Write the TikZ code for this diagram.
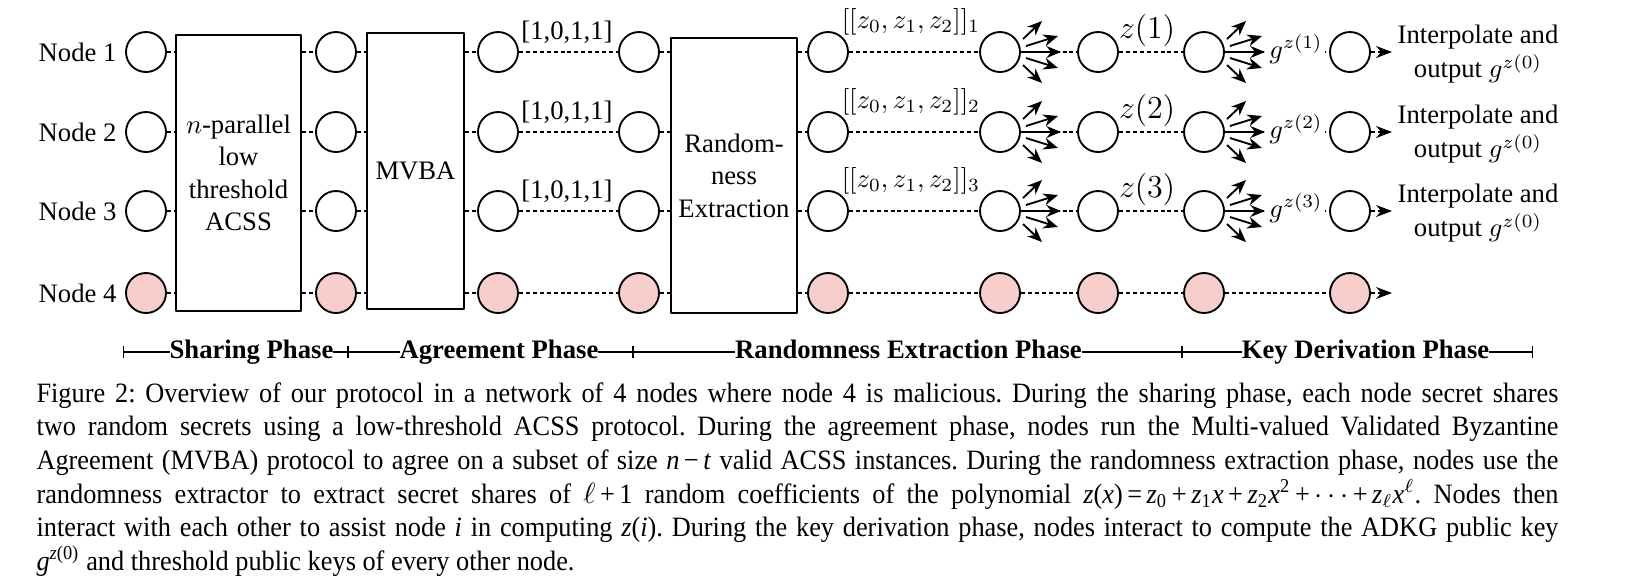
\documentclass[tikz,border=0pt]{standalone}
\usepackage{fontspec}
\setmainfont{Liberation Serif}
\newfontfamily\capfont[FakeStretch=0.94]{Liberation Serif}
\usetikzlibrary{arrows.meta}
\definecolor{pinkf}{RGB}{248,206,204}
\newcommand\mbin[1]{\hspace{0.16em}#1\hspace{0.16em}}
\begin{document}
\begin{tikzpicture}[x=0.375pt,y=-0.375pt,line join=round,
 nd/.style={circle,draw,line width=0.7pt,minimum size=15pt,inner sep=0pt},
 bad/.style={nd,fill=pinkf},
 bx/.style={draw,line width=0.7pt,inner sep=0pt,align=center,font=\fontsize{10}{12.2}\selectfont},
 dl/.style={line width=0.55pt,dash pattern=on 1.5pt off 1.1pt},
 fan/.style={line width=0.7pt,-{Stealth[length=5.5pt,width=4.5pt]}},
 lbl/.style={inner sep=0pt,font=\fontsize{10}{12}\selectfont},
 outarr/.style={dl,-{Stealth[length=6pt,width=4.5pt]}},
 phase/.style={inner sep=0pt,fill=white,font=\bfseries\fontsize{10}{12}\selectfont},
 phbar/.style={line width=0.5pt,{Bar[width=4.5pt]}-{Bar[width=4.5pt]}},
]
\useasboundingbox (0,0) rectangle (1626,585);

% boxes
\node[bx,minimum width=46.875pt,minimum height=103.5pt] (B1) at (238.5,173) {$n$-parallel\\low\\threshold\\ACSS};
\node[bx,minimum width=36.375pt,minimum height=103.5pt] (B2) at (415.5,171) {MVBA};
\node[bx,minimum width=47.25pt,minimum height=103.125pt] (B3) at (734,175.5) {Random-\\ness\\Extraction};

% circles
\foreach \col/\xx in {a/146,b/336,c/498,d/639,e/828,f/1000,g/1098,h/1204,i/1350}{
  \foreach \rr/\yy in {1/52,2/132,3/211}{\node[nd] (\col\rr) at (\xx,\yy) {};}
  \node[bad] (\col4) at (\xx,293) {};
}

% node labels
\foreach \rr/\yy in {1/52,2/132,3/211,4/293}{\node[lbl,anchor=east] (lab\rr) at (117,\yy) {Node \rr};}

% connectors
\foreach \rr in {1,2,3,4}{
 \draw[dl] (a\rr.east) -- (a\rr.east -| B1.west);
 \draw[dl] (b\rr.west -| B1.east) -- (b\rr.west);
 \draw[dl] (b\rr.east) -- (b\rr.east -| B2.west);
 \draw[dl] (c\rr.west -| B2.east) -- (c\rr.west);
 \draw[dl] (c\rr) -- (d\rr);
 \draw[dl] (d\rr.east) -- (d\rr.east -| B3.west);
 \draw[dl] (e\rr.west -| B3.east) -- (e\rr.west);
 \draw[dl] (e\rr) -- (f\rr);
 \draw[dl] (f\rr) -- (g\rr);
 \draw[dl] (g\rr) -- (h\rr);
 \draw[dl] (h\rr) -- (i\rr);
 \coordinate (o\rr) at ([xshift=15.75pt]i\rr.center);
 \draw[outarr] (i\rr) -- (o\rr);
}

% fans
\foreach \col in {f,h}{\foreach \rr in {1,2,3}{
 \foreach \sx/\sy/\ex/\ey in {23/-13/42/-31, 26/-6/58/-16, 22/0/61/0, 26/6/58/16, 23/13/42/31}{
   \draw[fan] ([shift={(\sx,\sy)}]\col\rr.center) -- ([shift={(\ex,\ey)}]\col\rr.center);
 }}}

% labels
\foreach \rr/\yy in {1/52,2/132,3/211}{
 \node[lbl] (v\rr) at (567,\yy-20) {[1,0,1,1]};
 \node[lbl] (s\rr) at (911,\yy-30) {$[[z_0,z_1,z_2]]_\rr$};
 \node[lbl,font=\fontsize{11.5}{13}\selectfont] (zz\rr) at (1147,\yy-22) {$z(\rr)$};
 \node[lbl,anchor=mid,fill=white,inner xsep=1pt] (gg\rr) at (1296,\yy) {$g^{z(\rr)}$};
 \node[lbl,align=center,font=\fontsize{10}{13}\selectfont] (out\rr) at (1478,\yy+2) {Interpolate and\\output $g^{z(0)}$};
}

% phase bar
\coordinate (t0) at (123,352);
\coordinate (t1) at (348,352);
\coordinate (t2) at (633,352);
\coordinate (t3) at (1182,352);
\coordinate (t4) at (1533,352);
\draw[phbar] (t0) -- (t1);
\draw[phbar] (t1) -- (t2);
\draw[phbar] (t2) -- (t3);
\draw[phbar] (t3) -- (t4);
\node[phase,anchor=mid] (p1) at (251.5,352) {Sharing Phase};
\node[phase,anchor=mid] (p2) at (499,352) {Agreement Phase};
\node[phase,anchor=mid] (p3) at (908.5,352) {Randomness Extraction Phase};
\node[phase,anchor=mid] (p4) at (1365.5,352) {Key Derivation Phase};

% caption
\node[anchor=north west,inner sep=0pt,text width=570.75pt,align=justify,
      font=\capfont\fontsize{10.5}{12.6}\selectfont\frenchspacing] (cap) at (36,382) {%
Figure 2: Overview of our protocol in a network of 4 nodes where node 4 is malicious. During the sharing phase, each node secret shares\linebreak
two random secrets using a low-threshold ACSS protocol. During the agreement phase, nodes run the Multi-valued Validated Byzantine\linebreak
Agreement (MVBA) protocol to agree on a subset of size \textit{n}\mbin{−}\textit{t} valid ACSS instances. During the randomness extraction phase, nodes use the\linebreak
randomness extractor to extract secret shares of $\ell$\mbin{+}1 random coefficients of the polynomial \textit{z}(\textit{x})\mbin{=}\textit{z}\textsubscript{0}\mbin{+}\textit{z}\textsubscript{1}\textit{x}\mbin{+}\textit{z}\textsubscript{2}\textit{x}\textsuperscript{2}\mbin{+}$\cdots$\mbin{+}\textit{z}\textsubscript{$\ell$}\textit{x}\textsuperscript{$\ell$}. Nodes then\linebreak
interact with each other to assist node \textit{i} in computing \textit{z}(\textit{i}). During the key derivation phase, nodes interact to compute the ADKG public key\linebreak
\textit{g}\textsuperscript{\textit{z}(0)} and threshold public keys of every other node.};
\end{tikzpicture}
\end{document}
